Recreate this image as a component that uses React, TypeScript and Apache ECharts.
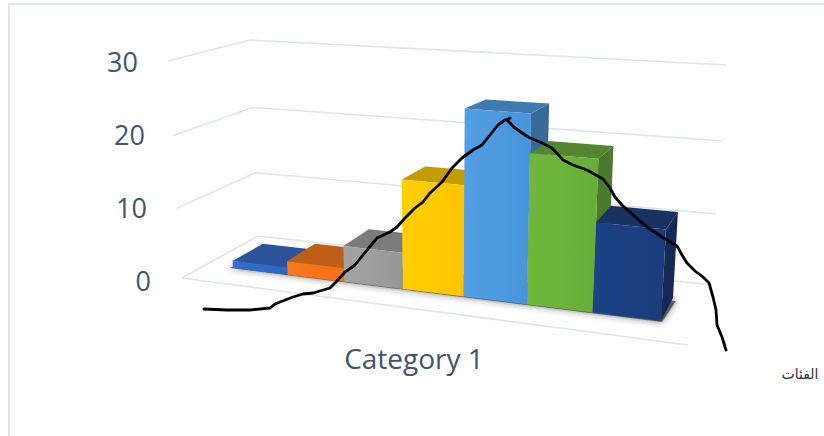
import React, { useEffect, useRef } from "react";
import * as echarts from "echarts";

const axisTicks = [0, 10, 20, 30];
const tickPadding: Record<number, number> = { 0: 0, 10: 4, 20: 6, 30: 13 };
const barValues = [1, 1.9, 4.9, 14.8, 25, 19.8, 11.6];
const barFaces = [
  { front: ["#3370d0", "#2b66c0"], top: "#2a539c", side: "#234a8c" },
  { front: ["#fb7a1c", "#f37014"], top: "#bf5e17", side: "#a85012" },
  { front: ["#a3a3a3", "#979797"], top: "#7b7b7b", side: "#6c6c6c" },
  { front: ["#ffd000", "#fdc400"], top: "#c49c00", side: "#a88600" },
  { front: ["#549ee2", "#4694dc"], top: "#3e79af", side: "#386b99" },
  { front: ["#6fb83c", "#67ae38"], top: "#54862f", side: "#4a7a2b" },
  { front: ["#1d4286", "#1a3c7c"], top: "#183261", side: "#132a55" },
];
const categoryLabel = "Category 1";
const axisCaption = "الفئات";

// Hand-inked curve over the columns, in page units
const strokeX = [204, 227, 250, 270, 275, 280, 293, 303, 313, 330, 337, 345, 355, 363, 373, 377, 390, 397, 405, 415, 423, 430, 442, 452, 462, 473, 482, 490, 498, 505, 510, 507, 515, 528, 542, 552, 563, 573, 587, 603, 610, 615, 622, 632, 647, 662, 677, 682, 687, 695, 703, 709, 713, 716, 717, 722, 726];
const strokeY = [309, 310, 310, 308, 304, 302, 297, 294, 293, 288, 281, 272, 265, 255, 243, 238, 232, 227, 218, 208, 202, 193, 182, 168, 158, 150, 145, 135, 125, 120, 118, 120, 128, 137, 143, 148, 160, 165, 170, 179, 188, 197, 205, 214, 227, 237, 246, 255, 263, 271, 277, 283, 297, 310, 325, 337, 350];

const COLUMN_COUNT = barValues.length;
const BACK_ROW = { x0: 263, x1: 673, y0: 250.5, y1: 298 };
const FRONT_Y = { y0: 268, y1: 321 };
const CENTRE_X = 443;
const LEAN = 0.00025;
const WALL = {
  frontLeft: [[182, 278], [168, 61]],
  backLeft: [[258, 236], [250, 40]],
  backRight: [[712, 285], [726, 65]],
  frontRight: [688, 345],
};

// One-dimensional perspective: equal steps grow towards t = 1
const foreshorten = (t: number, r: number) => t / (t + (1 - t) * r);
const lerp = (a: number, b: number, t: number) => a + (b - a) * t;

function floorPoint(api: any, edge: number, depth: number) {
  const left = api.coord([0, 0])[0];
  const right = api.coord([COLUMN_COUNT, 0])[0];
  const s = foreshorten(edge / COLUMN_COUNT, 1.14);
  if (depth === 0) return [lerp(left, right, s), lerp(FRONT_Y.y0, FRONT_Y.y1, s)];
  const x = lerp(BACK_ROW.x0, BACK_ROW.x1, s);
  return [x, lerp(BACK_ROW.y0, BACK_ROW.y1, (x - BACK_ROW.x0) / (BACK_ROW.x1 - BACK_ROW.x0))];
}

// Lift a floor point by a value, scaled from the y axis and leaning away from the centre
function lift(api: any, edge: number, depth: number, value: number) {
  const [x, y] = floorPoint(api, edge, depth);
  const unit = api.coord([0, 0])[1] - api.coord([0, 1])[1];
  const scale = 1.03 * Math.pow(1.016, edge - 4) * (depth ? 0.94 : 1);
  const h = value * unit * scale;
  return [x + (x - CENTRE_X) * LEAN * h, y - h];
}

function renderBar(params: any, api: any) {
  const i = api.value(0);
  const v = api.value(1);
  const faces = barFaces[i];
  const fbl = floorPoint(api, i, 0);
  const fbr = floorPoint(api, i + 1, 0);
  const bbr = floorPoint(api, i + 1, 1);
  const ftl = lift(api, i, 0, v);
  const ftr = lift(api, i + 1, 0, v);
  const btl = lift(api, i, 1, v);
  const btr = lift(api, i + 1, 1, v);
  const poly = (points: number[][], fill: any) => ({
    type: "polygon",
    shape: { points },
    style: { fill, stroke: null },
  });
  return {
    type: "group",
    children: [
      poly([fbr, bbr, btr, ftr], faces.side),
      poly([ftl, ftr, btr, btl], faces.top),
      poly(
        [fbl, fbr, ftr, ftl],
        new echarts.graphic.LinearGradient(0, 0, 1, 0, [
          { offset: 0, color: faces.front[0] },
          { offset: 1, color: faces.front[1] },
        ])
      ),
    ],
  };
}

// Soft contact shadow under the row of columns
function renderShadow(params: any, api: any) {
  const a = floorPoint(api, 0, 0);
  const b = floorPoint(api, COLUMN_COUNT, 0);
  const c = floorPoint(api, COLUMN_COUNT, 1);
  const d = floorPoint(api, 0, 1);
  return {
    type: "polygon",
    shape: {
      points: [
        [a[0] - 3, a[1]],
        [b[0] + 1, b[1] + 1],
        [c[0] + 3, c[1] + 3],
        [d[0], d[1]],
      ],
    },
    style: { fill: "rgba(70,70,70,0.8)", shadowBlur: 7, shadowColor: "rgba(40,40,40,0.7)" },
  };
}

function renderWall(params: any, api: any) {
  const v = api.value(0);
  const base = api.coord([0, 0])[1];
  const t = (base - api.coord([0, v])[1]) / (base - api.coord([0, axisTicks[axisTicks.length - 1]])[1]);
  const s = foreshorten(t, 1.05);
  const at = (pair: number[][]) => [lerp(pair[0][0], pair[1][0], t), lerp(pair[0][1], pair[1][1], s)];
  const points = [at(WALL.frontLeft), at(WALL.backLeft), at(WALL.backRight)];
  const style = { fill: null, stroke: "#dfe3ea", lineWidth: 1.6 };
  const children: any[] = [{ type: "polyline", shape: { points }, style }];
  if (v === 0) {
    children.push({
      type: "polyline",
      shape: { points: [WALL.frontLeft[0], WALL.frontRight] },
      style,
    });
  }
  return { type: "group", children };
}

export default function App() {
  const ref = useRef<HTMLDivElement>(null);

  useEffect(() => {
    document.body.style.margin = "0";
    const chart = echarts.init(ref.current!, null, { renderer: "svg" });
    const textColor = "#44546a";
    chart.setOption({
      animation: false,
      backgroundColor: "#ffffff",
      textStyle: { fontFamily: "'Open Sans', sans-serif" },
      grid: [
        { left: 233, top: 61, width: 428, height: 219 },
        { left: 0, top: 0, width: 824, height: 436 },
      ],
      xAxis: [
        { type: "value", gridIndex: 0, min: 0, max: COLUMN_COUNT, show: false },
        { type: "value", gridIndex: 1, min: 0, max: 824, show: false },
      ],
      yAxis: [
        {
          type: "value",
          gridIndex: 0,
          min: 0,
          max: 30,
          interval: 10,
          axisLine: { show: false },
          axisTick: { show: false },
          splitLine: { show: false },
          axisLabel: {
            margin: 82,
            formatter: (v: number) => `{t${v}|${v}}`,
            rich: Object.fromEntries(
              axisTicks.map((v) => [
                `t${v}`,
                {
                  color: textColor,
                  fontSize: 27,
                  fontFamily: "'Open Sans', sans-serif",
                  padding: [0, tickPadding[v], 0, 0],
                },
              ])
            ),
          },
        },
        { type: "value", gridIndex: 1, min: 0, max: 436, inverse: true, show: false },
      ],
      series: [
        {
          type: "custom",
          xAxisIndex: 0,
          yAxisIndex: 0,
          clip: false,
          silent: true,
          z: 1,
          data: axisTicks.map((v) => [v]),
          encode: { x: -1, y: -1 },
          renderItem: renderWall,
        },
        {
          type: "custom",
          xAxisIndex: 0,
          yAxisIndex: 0,
          clip: false,
          silent: true,
          z: 2,
          data: [[0]],
          encode: { x: -1, y: -1 },
          renderItem: renderShadow,
        },
        {
          type: "custom",
          xAxisIndex: 0,
          yAxisIndex: 0,
          clip: false,
          silent: true,
          z: 3,
          data: barValues.map((v, i) => [i, v]),
          encode: { x: 0, y: 1 },
          renderItem: renderBar,
        },
        {
          type: "line",
          xAxisIndex: 1,
          yAxisIndex: 1,
          z: 5,
          symbol: "none",
          silent: true,
          lineStyle: { color: "#000000", width: 2.8, join: "round", cap: "round" },
          data: strokeX.map((x, i) => [x, strokeY[i]]),
        },
      ],
      graphic: [
        {
          type: "polyline",
          silent: true,
          z: 0,
          shape: { points: [[9, 436], [9, 4], [824, 4]] },
          style: { fill: null, stroke: "#e2e6ea", lineWidth: 2 },
        },
        {
          type: "text",
          silent: true,
          x: 414,
          y: 358,
          style: {
            text: categoryLabel,
            fill: textColor,
            font: "28px 'Open Sans', sans-serif",
            textAlign: "center",
            textVerticalAlign: "middle",
          },
        },
        {
          type: "text",
          silent: true,
          x: 800,
          y: 374,
          style: {
            text: axisCaption,
            fill: "#333333",
            font: "14px 'DejaVu Sans', sans-serif",
            textAlign: "center",
            textVerticalAlign: "middle",
          },
        },
      ],
    });
    return () => chart.dispose();
  }, []);

  return <div ref={ref} style={{ position: "fixed", left: 0, top: 0, width: 824, height: 436 }} />;
}
